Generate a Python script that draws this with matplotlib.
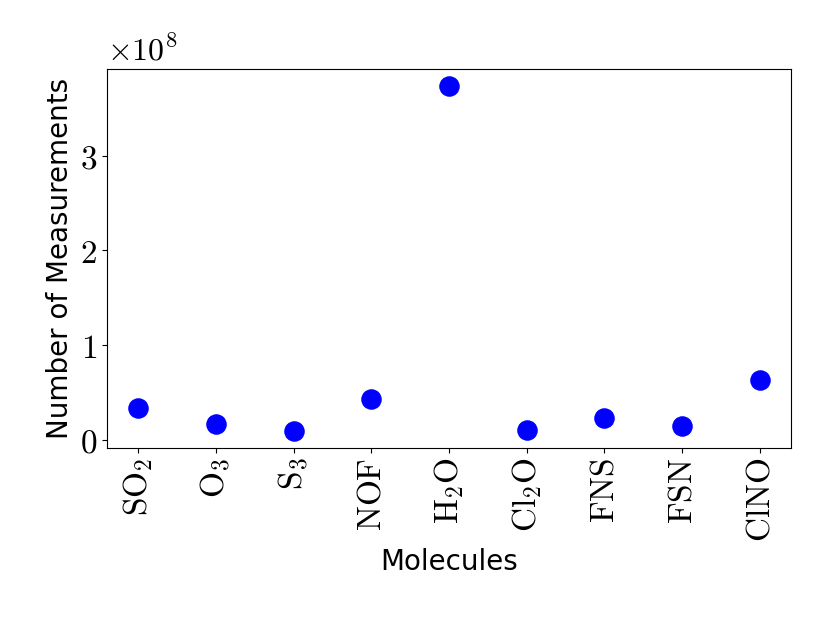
import numpy as np
import matplotlib
matplotlib.use('Agg')
from matplotlib import pyplot as plt

plt.rcParams['mathtext.fontset'] = 'cm'
plt.rcParams['font.family'] = ['DejaVu Sans']

molecules = [r'$\mathrm{SO_2}$', r'$\mathrm{O_3}$', r'$\mathrm{S_3}$', r'$\mathrm{NOF}$',
             r'$\mathrm{H_2O}$', r'$\mathrm{Cl_2O}$', r'$\mathrm{FNS}$', r'$\mathrm{FSN}$',
             r'$\mathrm{ClNO}$']
measurements = [3.4e7, 1.7e7, 0.95e7, 4.3e7, 3.73e8, 1.05e7, 2.3e7, 1.5e7, 6.3e7]

fig, ax = plt.subplots(figsize=(8.3, 6.23), dpi=100)
fig.subplots_adjust(left=0.129, right=0.953, top=0.889, bottom=0.281)

x = np.arange(len(molecules))
ax.scatter(x, measurements, s=190, color='blue', zorder=3)

ax.set_xticks(x)
ax.set_xticklabels(molecules, rotation=90, fontsize=24)
ax.set_yticks([0, 1e8, 2e8, 3e8])
ax.set_yticklabels([r'$0$', r'$1$', r'$2$', r'$3$'], fontsize=24)
ax.text(0.0, 1.005, r'$\times10^{8}$', transform=ax.transAxes, fontsize=23,
        ha='left', va='bottom')
ax.set_xlabel('Molecules', fontsize=20)
ax.set_ylabel('Number of Measurements', fontsize=20)

fig.savefig('out.png', dpi=100)
